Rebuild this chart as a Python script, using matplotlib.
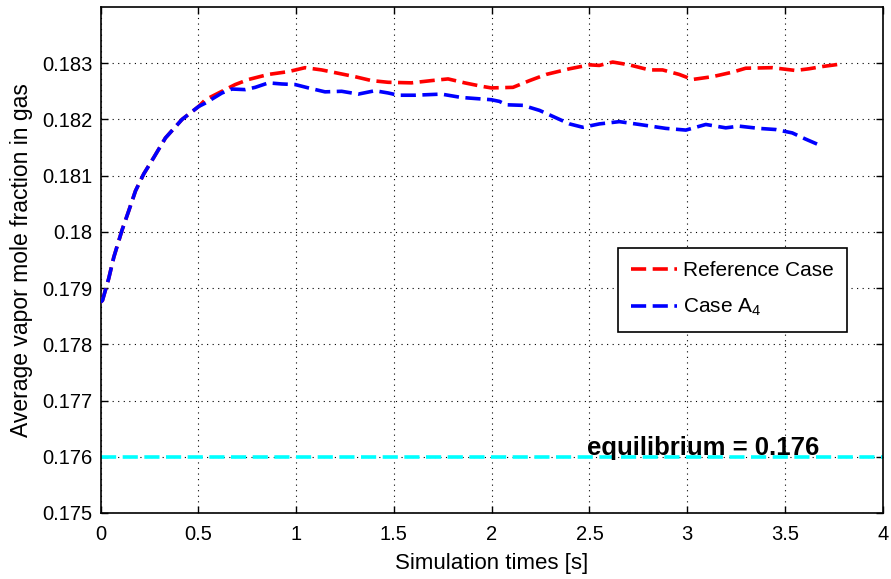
import numpy as np
import matplotlib
matplotlib.use("Agg")
import matplotlib.pyplot as plt

plt.rcParams['font.family'] = ['Liberation Sans', 'DejaVu Sans']
plt.rcParams['mathtext.default'] = 'regular'

# shared start of both runs
t_start = [0.0, 0.01, 0.042, 0.068, 0.11, 0.145, 0.179, 0.221, 0.272, 0.332, 0.417, 0.502]
y_start = [0.17875, 0.17878, 0.17917, 0.17955, 0.18003, 0.18038, 0.18073, 0.18103,
           0.18132, 0.18167, 0.18200, 0.18223]

# reference case
t_ref = t_start + [0.536, 0.621, 0.689, 0.757, 0.859, 0.961, 1.046, 1.131, 1.216, 1.301,
                   1.386, 1.471, 1.59, 1.692, 1.777, 1.862, 1.947, 1.998, 2.109, 2.194,
                   2.279, 2.398, 2.5, 2.55, 2.619, 2.704, 2.806, 2.874, 2.959, 3.027,
                   3.129, 3.231, 3.299, 3.435, 3.554, 3.622, 3.69, 3.776]
y_ref = y_start + [0.18235, 0.18250, 0.18262, 0.18271, 0.18280, 0.18285, 0.18292, 0.18288,
                   0.18282, 0.18276, 0.18269, 0.18266, 0.18265, 0.18269, 0.18272, 0.18265,
                   0.18259, 0.18256, 0.18257, 0.18269, 0.18280, 0.18290, 0.18297, 0.18296,
                   0.18302, 0.18297, 0.18288, 0.18288, 0.18280, 0.18271, 0.18276, 0.18284,
                   0.18291, 0.18292, 0.18287, 0.18290, 0.18294, 0.18298]

# case A4
t_a4 = t_start + [0.536, 0.621, 0.672, 0.74, 0.791, 0.859, 0.927, 0.995, 1.063, 1.148,
                  1.233, 1.318, 1.403, 1.471, 1.522, 1.607, 1.743, 1.845, 1.998, 2.04,
                  2.075, 2.16, 2.245, 2.347, 2.398, 2.466, 2.551, 2.653, 2.755, 2.891,
                  2.993, 3.095, 3.197, 3.265, 3.367, 3.452, 3.537, 3.605, 3.665]
y_a4 = y_start + [0.18229, 0.18247, 0.18254, 0.18253, 0.18257, 0.18265, 0.18263, 0.18262,
                  0.18256, 0.18249, 0.18250, 0.18245, 0.18251, 0.18247, 0.18243, 0.18243,
                  0.18245, 0.18239, 0.18235, 0.18232, 0.18226, 0.18225, 0.18216, 0.18200,
                  0.18192, 0.18186, 0.18192, 0.18196, 0.18191, 0.18184, 0.18181, 0.18191,
                  0.18185, 0.18188, 0.18184, 0.18182, 0.18176, 0.18165, 0.18156]

y_eq = 0.176
x_ticks = [0, 0.5, 1, 1.5, 2, 2.5, 3, 3.5, 4]
x_labels = ['0', '0.5', '1', '1.5', '2', '2.5', '3', '3.5', '4']
y_ticks = [0.175, 0.176, 0.177, 0.178, 0.179, 0.18, 0.181, 0.182, 0.183]
y_labels = ['0.175', '0.176', '0.177', '0.178', '0.179', '0.18', '0.181', '0.182', '0.183']

fig = plt.figure(figsize=(8.91, 5.79), dpi=100)
ax = fig.add_axes([0.1128, 0.114, 0.878, 0.874])

dash = (4.2, 1.8)
lw = 2.6
ax.plot(t_ref, y_ref, color='#ff0000', lw=lw, dashes=dash, label='Reference Case', zorder=3)
ax.plot(t_a4, y_a4, color='#0000ff', lw=lw, dashes=dash, label='Case A$_4$', zorder=4)
ax.axhline(y_eq, color='#00ffff', lw=lw, dashes=dash, zorder=2)
ax.text(2.49, 0.17603, 'equilibrium = %.3f' % y_eq, fontsize=18.5, fontweight='bold',
        ha='left', va='baseline', zorder=5)

ax.set_xlim(0, 4)
ax.set_ylim(0.175, 0.184)
ax.set_xticks(x_ticks)
ax.set_xticklabels(x_labels)
ax.set_yticks(y_ticks)
ax.set_yticklabels(y_labels)
ax.tick_params(direction='in', length=5, width=1, top=True, right=True, labelsize=14.5)
ax.tick_params(axis='x', pad=9)
ax.tick_params(axis='y', pad=6)
ax.grid(True, color='black', linestyle=(0, (1, 4)), linewidth=0.8)
for s in ax.spines.values():
    s.set_linewidth(1.2)

ax.set_xlabel('Simulation times [s]', fontsize=16, labelpad=6)
ax.set_ylabel('Average vapor mole fraction in gas', fontsize=16.5, labelpad=6)

leg = ax.legend(loc='upper right', bbox_to_anchor=(0.954, 0.524), borderaxespad=0,
                fontsize=15, handlelength=2.2, handletextpad=0.25, labelspacing=0.8,
                borderpad=0.65, fancybox=False, framealpha=1, edgecolor='black')
leg.get_frame().set_linewidth(1.2)

fig.savefig('out.png', dpi=100)
